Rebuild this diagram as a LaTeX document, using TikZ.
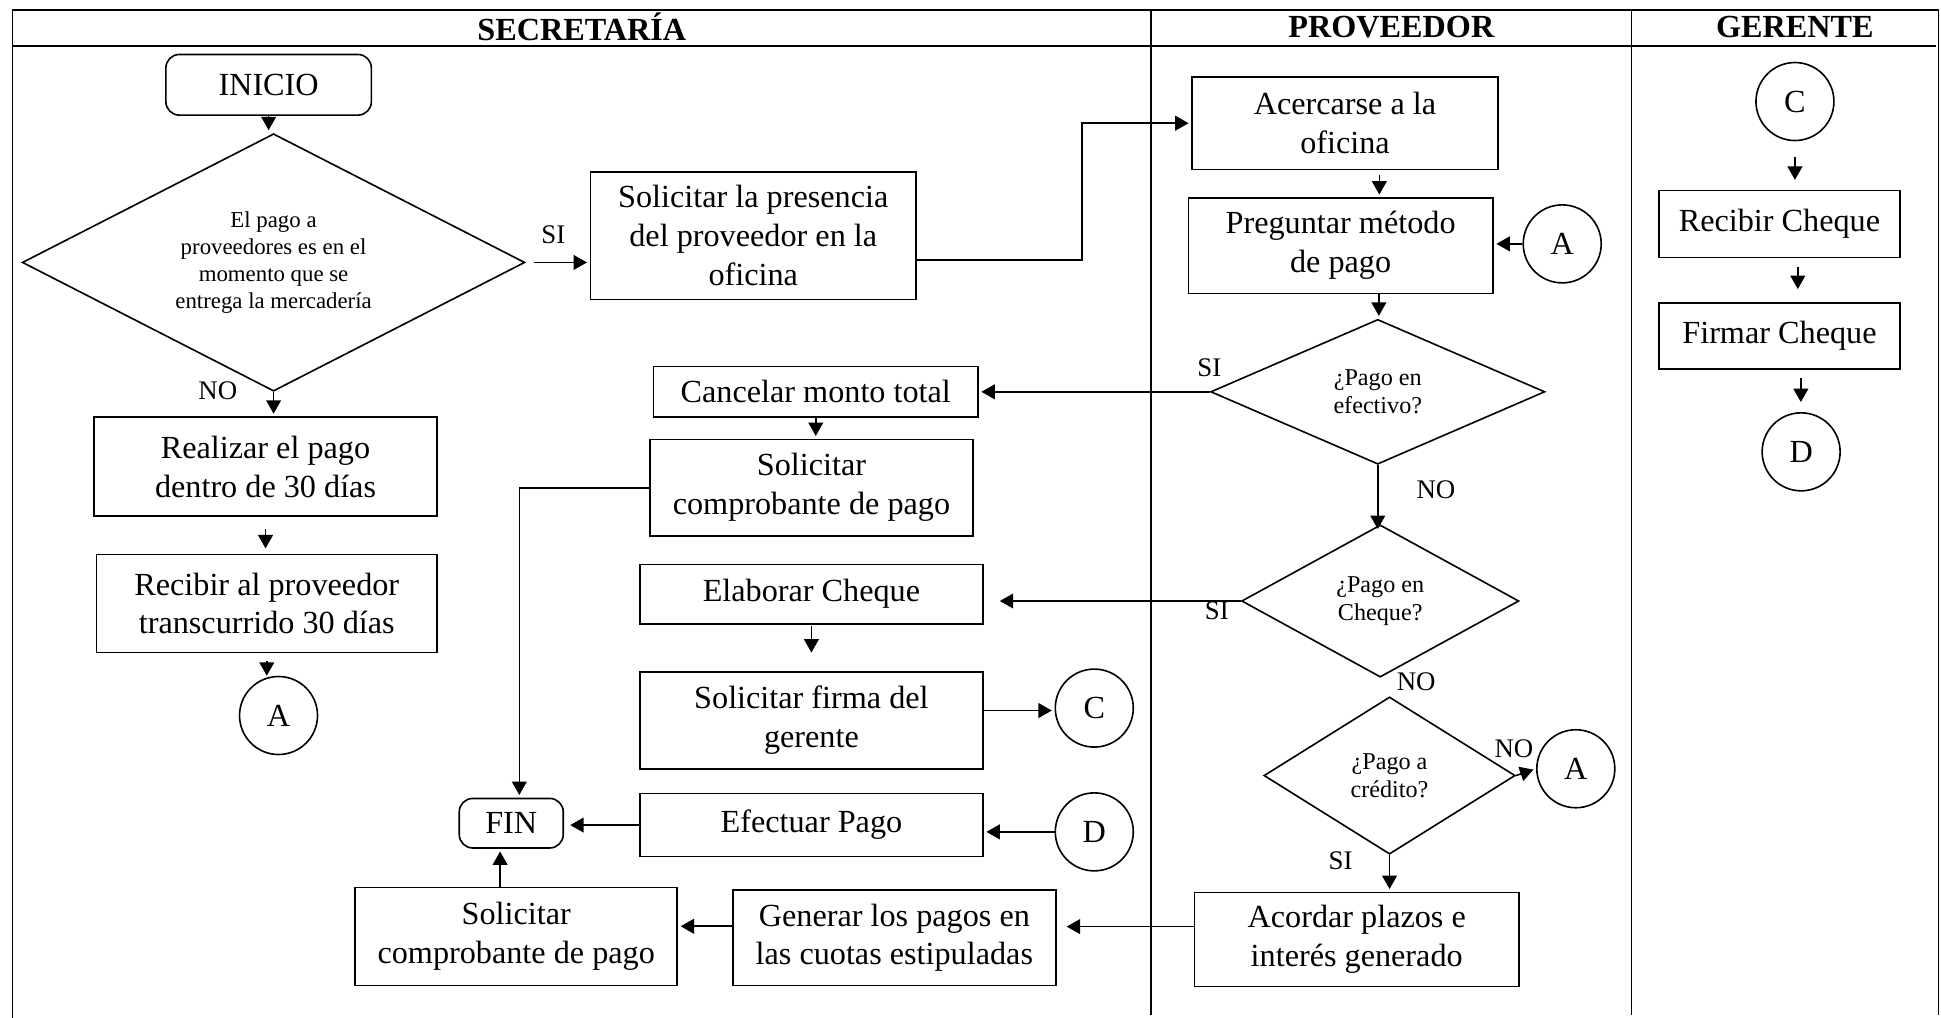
\documentclass[tikz,border=0pt]{standalone}
\usepackage{fontspec}
\setmainfont{Liberation Serif}
\usepackage{tikz}
\usetikzlibrary{arrows.meta,shapes.geometric,positioning}

\newcommand{\pxu}{0.0162cm}

\begin{document}
\begin{tikzpicture}[x=0.0162cm, y=-0.0162cm, ->, >={Stealth[length=5pt,width=5.5pt,inset=0pt]},
    shorten >=1pt, line width=0.6pt,
    proc/.style 2 args={draw, rectangle, align=center, inner sep=1pt, minimum width=#1*\pxu,
                        minimum height=#2*\pxu, font=\fontsize{12}{14.5}\selectfont},
    term/.style 2 args={proc={#1}{#2}, rounded corners=5pt},
    decision/.style n args={3}{draw, diamond, align=center, inner sep=0pt, minimum width=#1*\pxu,
                        minimum height=#2*\pxu, aspect=#3, font=\fontsize{9}{10.5}\selectfont},
    conn/.style={draw, circle, minimum size=63*\pxu, inner sep=0pt, font=\fontsize{12}{14}\selectfont},
    tag/.style={font=\fontsize{10}{12}\selectfont},
    head/.style={font=\bfseries\fontsize{12}{14}\selectfont},
    lane/.style={-, line width=0.6pt},
    gap/.style 2 args={shorten <=#1, shorten >=#2}]

  \useasboundingbox (0,0) rectangle (1568,822);

  % carriles
  \draw[lane] (10,822) -- (10,8) -- (1566,8) -- (1566,822);
  \draw[lane] (10,37) -- (1566,37);
  \draw[lane] (930,8) -- (930,822);
  \draw[lane] (1318,8) -- (1318,822);
  \node[head] (hSec) at (470,22) {SECRETARÍA};
  \node[head] (hPro) at (1124,22) {PROVEEDOR};
  \node[head] (hGer) at (1450,22) {GERENTE};

  % secretaria
  \node[term={166}{49}] (ini) at (217,68.5) {INICIO};
  \node[decision={406}{208}{1.95}, font=\fontsize{8.5}{10}\selectfont] (dec1) at (221,212)
       {El pago a\\proveedores es en el\\momento que se\\entrega la mercadería};
  \node[proc={263}{103}] (pres) at (608.5,190.5) {Solicitar la presencia\\del proveedor en la\\oficina};
  \node[proc={277}{80}] (real) at (214.5,377) {Realizar el pago\\dentro de 30 días};
  \node[proc={275}{79}] (reci) at (215.5,487.5) {Recibir al proveedor\\transcurrido 30 días};
  \node[conn] (cA1) at (225,578) {A};
  \node[proc={262}{41}] (canc) at (659,316.5) {Cancelar monto total};
  \node[proc={261}{78}] (comp1) at (655.5,394) {Solicitar\\comprobante de pago};
  \node[proc={277}{48}] (elab) at (655.5,480) {Elaborar Cheque};
  \node[proc={277}{78}] (firma) at (655.5,582) {Solicitar firma del\\gerente};
  \node[conn] (cC1) at (884,572) {C};
  \node[term={84}{40}] (fin) at (413,665) {FIN};
  \node[proc={277}{51}] (efec) at (655.5,666.5) {Efectuar Pago};
  \node[conn] (cD1) at (884,672) {D};
  \node[proc={260}{79}] (comp2) at (417,756.5) {Solicitar\\comprobante de pago};
  \node[proc={261}{77}] (gen) at (722.5,757.5) {Generar los pagos en\\las cuotas estipuladas};

  % proveedor
  \node[proc={247}{75}] (acer) at (1086.5,99.5) {Acercarse a la\\oficina};
  \node[proc={246}{77}] (preg) at (1083,198.5) {Preguntar método\\de pago};
  \node[conn] (cA2) at (1262,197) {A};
  \node[decision={270}{117}{2.3}] (efe) at (1113,316.5) {¿Pago en\\efectivo?};
  \node[decision={224}{123}{1.82}] (chq) at (1115,485.5) {¿Pago en\\Cheque?};
  \node[decision={203}{127}{1.6}] (cred) at (1122.5,626.5) {¿Pago a\\crédito?};
  \node[conn] (cA3) at (1273,621) {A};
  \node[proc={262}{76}] (acor) at (1096,759) {Acordar plazos e\\interés generado};

  % gerente
  \node[conn] (cC2) at (1450,82) {C};
  \node[proc={195}{54}] (rch) at (1437.5,181) {Recibir Cheque};
  \node[proc={195}{53}] (fch) at (1437.5,271.5) {Firmar Cheque};
  \node[conn] (cD2) at (1455,365) {D};

  % etiquetas
  \node[tag] (tSi1) at (447,190) {SI};
  \node[tag] (tNo1) at (176,316) {NO};
  \node[tag] (tSi2) at (977,297) {SI};
  \node[tag] (tNo2) at (1160,396) {NO};
  \node[tag] (tSi3) at (983,493) {SI};
  \node[tag] (tNo3) at (1144,551) {NO};
  \node[tag] (tNo4) at (1223,605) {NO};
  \node[tag] (tSi4) at (1083,695) {SI};

  % conexiones
  \draw (ini.south) -- (ini.south |- dec1.north);
  \draw ([xshift=3pt]dec1.east) -- (dec1.east -| pres.west);
  \draw ([yshift=-0.32cm]pres.east) -| ([xshift=-1.43cm]acer.west) -- (acer.west);
  \draw (dec1.south) -- (dec1.south |- real.north);
  \draw[gap={4.5pt}{2pt}] (real.south) -- (real.south |- reci.north);
  \draw[gap={2.8pt}{0pt}] (reci.south) -- (reci.south |- cA1.north);

  \draw (efe.west) -- (efe.west -| canc.east);
  \draw (canc.south) -- (canc.south |- comp1.north);
  \draw (comp1.west) -| ([xshift=3pt]fin.north);
  \draw (chq.west) -- ([xshift=5pt]chq.west -| elab.east);
  \draw[gap={0.5pt}{7pt}] (elab.south) -- (elab.south |- firma.north);
  \draw ([yshift=0.13cm]firma.east) -- ([yshift=0.13cm]firma.east -| cC1.west);
  \draw[gap={0pt}{2.3pt}] (efec.west) -- (efec.west -| fin.east);
  \draw (cD1.west) -- (cD1.west -| efec.east);
  \draw ([xshift=-6pt]comp2.north) -- ([xshift=-6pt]comp2.north |- fin.south);
  \draw ([yshift=0.15cm]gen.west) -- ([yshift=0.15cm]gen.west -| comp2.east);
  \draw[gap={0pt}{3.7pt}] ([yshift=0.17cm]acor.west) -- ([yshift=0.17cm]acor.west -| gen.east);

  \draw[gap={1.8pt}{1pt}] ([xshift=0.45cm]acer.south) -- ([xshift=0.45cm]acer.south |- preg.north);
  \draw (cA2.west) -- (cA2.west -| preg.east);
  \draw ([xshift=0.5cm]preg.south) -- ([xshift=0.5cm]preg.south |- efe.north);
  \draw (efe.south) -- ([yshift=-0.1cm]efe.south |- chq.north);
  \draw (cred.east) -- (cA3.west);
  \draw (cred.south) -- (cred.south |- acor.north);

  \draw[gap={6pt}{3.7pt}] (cC2.south) -- (cC2.south |- rch.north);
  \draw[gap={3.2pt}{5pt}] ([xshift=0.24cm]rch.south) -- ([xshift=0.24cm]rch.south |- fch.north);
  \draw[gap={3.2pt}{3.7pt}] ([xshift=0.28cm]fch.south) -- ([xshift=0.28cm]fch.south |- cD2.north);

\end{tikzpicture}
\end{document}
